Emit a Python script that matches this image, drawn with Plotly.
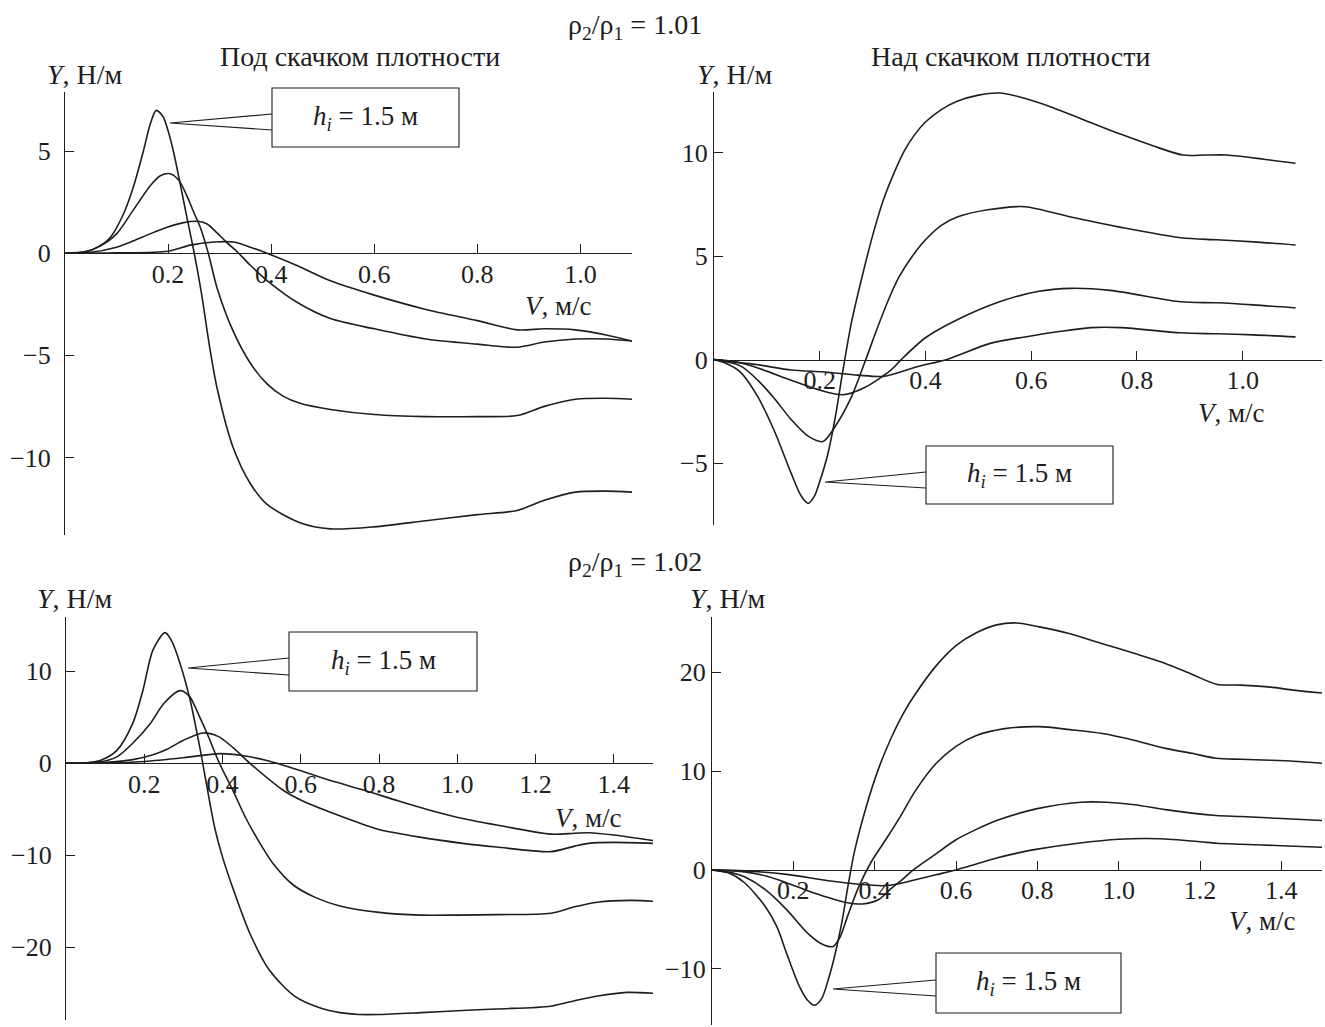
import plotly.graph_objects as go

# ---------------- DATA ----------------
# Panel 1: rho2/rho1 = 1.01, under the density jump
u1_A_v = [0, 0.03, 0.055, 0.087, 0.113, 0.132, 0.152, 0.165, 0.177, 0.19, 0.2, 0.212, 0.225, 0.237, 0.25, 0.265, 0.28, 0.295, 0.326, 0.36, 0.392, 0.456, 0.515, 0.6, 0.7, 0.8, 0.877, 0.93, 0.99, 1.05, 1.1]
u1_A_y = [0, 0.03, 0.2, 0.75, 1.9, 3.2, 5.0, 6.3, 7.0, 6.7, 6.0, 4.8, 3.2, 1.7, 0.1, -2.0, -4.5, -6.6, -9.5, -11.3, -12.3, -13.2, -13.5, -13.4, -13.1, -12.8, -12.6, -12.1, -11.7, -11.65, -11.7]
u1_B_v = [0, 0.04, 0.068, 0.1, 0.132, 0.165, 0.185, 0.204, 0.22, 0.235, 0.25, 0.262, 0.278, 0.295, 0.326, 0.36, 0.392, 0.423, 0.456, 0.515, 0.6, 0.7, 0.8, 0.877, 0.93, 0.99, 1.05, 1.1]
u1_B_y = [0, 0.08, 0.35, 0.95, 2.1, 3.3, 3.8, 3.9, 3.6, 2.9, 2.0, 1.3, 0, -1.7, -3.8, -5.4, -6.4, -7.0, -7.35, -7.65, -7.9, -8.0, -8.0, -7.95, -7.5, -7.15, -7.1, -7.15]
u1_C_v = [0, 0.05, 0.1, 0.132, 0.165, 0.198, 0.23, 0.256, 0.275, 0.295, 0.315, 0.335, 0.36, 0.4, 0.45, 0.515, 0.6, 0.7, 0.8, 0.877, 0.93, 0.99, 1.05, 1.1]
u1_C_y = [0, 0.05, 0.3, 0.6, 0.95, 1.27, 1.5, 1.57, 1.45, 1.0, 0.5, 0.05, -0.6, -1.5, -2.4, -3.2, -3.7, -4.2, -4.45, -4.6, -4.35, -4.2, -4.2, -4.3]
u1_D_v = [0, 0.1, 0.2, 0.243, 0.288, 0.327, 0.365, 0.392, 0.45, 0.515, 0.6, 0.7, 0.8, 0.877, 0.93, 0.99, 1.05, 1.1]
u1_D_y = [0, 0.02, 0.1, 0.4, 0.55, 0.55, 0.25, 0.0, -0.6, -1.35, -2.05, -2.75, -3.3, -3.75, -3.7, -3.75, -4.0, -4.3]

# Panel 2: rho2/rho1 = 1.01, above the density jump
o1_A_v = [0, 0.02, 0.05, 0.083, 0.115, 0.146, 0.165, 0.178, 0.19, 0.2, 0.215, 0.23, 0.244, 0.26, 0.28, 0.3, 0.32, 0.34, 0.36, 0.38, 0.4, 0.43, 0.46, 0.5, 0.54, 0.58, 0.63, 0.7, 0.77, 0.83, 0.887, 0.93, 0.97, 1.04, 1.1]
o1_A_y = [0, -0.15, -0.6, -1.8, -3.5, -5.5, -6.6, -6.95, -6.6, -5.9, -4.6, -2.7, -0.5, 1.8, 4.0, 6.0, 7.7, 9.0, 10.1, 10.9, 11.5, 12.1, 12.5, 12.8, 12.9, 12.7, 12.3, 11.6, 10.9, 10.35, 9.9, 9.9, 9.9, 9.7, 9.5]
o1_B_v = [0, 0.05, 0.083, 0.115, 0.146, 0.178, 0.206, 0.23, 0.26, 0.287, 0.31, 0.33, 0.35, 0.375, 0.4, 0.43, 0.46, 0.518, 0.588, 0.675, 0.77, 0.883, 0.95, 1.02, 1.1]
o1_B_y = [0, -0.3, -1.0, -1.9, -2.9, -3.7, -3.96, -3.2, -1.8, 0, 1.6, 2.9, 4.0, 5.0, 5.8, 6.5, 6.9, 7.25, 7.4, 6.9, 6.4, 5.9, 5.8, 5.7, 5.55]
o1_C_v = [0, 0.04, 0.083, 0.146, 0.197, 0.244, 0.285, 0.335, 0.354, 0.4, 0.46, 0.54, 0.612, 0.675, 0.75, 0.883, 0.95, 1.02, 1.1]
o1_C_y = [0, -0.1, -0.4, -1.0, -1.45, -1.7, -1.35, -0.5, 0, 1.06, 1.93, 2.8, 3.3, 3.45, 3.35, 2.8, 2.75, 2.65, 2.5]
o1_D_v = [0, 0.083, 0.146, 0.21, 0.272, 0.323, 0.386, 0.439, 0.524, 0.588, 0.65, 0.713, 0.77, 0.883, 0.95, 1.02, 1.1]
o1_D_y = [0, -0.25, -0.5, -0.6, -0.75, -0.8, -0.33, 0, 0.8, 1.1, 1.35, 1.55, 1.55, 1.3, 1.25, 1.2, 1.1]

# Panel 3: rho2/rho1 = 1.02, under the density jump
u2_A_v = [0, 0.05, 0.087, 0.13, 0.171, 0.197, 0.222, 0.253, 0.27, 0.291, 0.317, 0.342, 0.36, 0.38, 0.4, 0.43, 0.47, 0.52, 0.584, 0.65, 0.7, 0.75, 0.8, 0.907, 1.0, 1.1, 1.239, 1.3, 1.358, 1.433, 1.5]
u2_A_y = [0, 0.05, 0.3, 1.4, 4.4, 8.0, 12.3, 14.2, 13.3, 10.9, 6.9, 1.7, -2.5, -7.0, -10.2, -14.0, -18.5, -22.5, -25.3, -26.6, -27.1, -27.3, -27.3, -27.1, -26.9, -26.7, -26.4, -25.8, -25.3, -24.9, -25.0]
u2_B_v = [0, 0.087, 0.13, 0.171, 0.215, 0.25, 0.291, 0.315, 0.342, 0.365, 0.39, 0.427, 0.46, 0.5, 0.531, 0.58, 0.638, 0.7, 0.8, 0.907, 1.0, 1.1, 1.239, 1.3, 1.358, 1.443, 1.5]
u2_B_y = [0, 0.15, 0.7, 2.2, 4.3, 6.5, 7.9, 7.3, 5.0, 2.8, 0.2, -3.0, -6.0, -9.0, -11.0, -13.2, -14.6, -15.5, -16.2, -16.5, -16.5, -16.45, -16.3, -15.6, -15.1, -14.9, -15.0]
u2_C_v = [0, 0.1, 0.171, 0.22, 0.257, 0.3, 0.35, 0.39, 0.427, 0.47, 0.554, 0.605, 0.674, 0.75, 0.8, 0.9, 1.014, 1.1, 1.239, 1.3, 1.336, 1.4, 1.5]
u2_C_y = [0, 0.1, 0.4, 0.9, 1.5, 2.5, 3.3, 2.9, 1.7, 0, -2.9, -4.1, -5.3, -6.5, -7.2, -8.0, -8.7, -9.1, -9.6, -9.0, -8.7, -8.6, -8.7]
u2_D_v = [0, 0.1, 0.2, 0.3, 0.393, 0.45, 0.513, 0.57, 0.674, 0.76, 0.85, 0.93, 1.014, 1.1, 1.239, 1.3, 1.336, 1.4, 1.5]
u2_D_y = [0, 0.02, 0.2, 0.6, 1.05, 0.85, 0.3, -0.4, -1.85, -2.9, -4.1, -5.1, -6.0, -6.7, -7.7, -7.6, -7.55, -7.8, -8.4]

# Panel 4: rho2/rho1 = 1.02, above the density jump
o2_A_v = [0, 0.04, 0.08, 0.131, 0.16, 0.183, 0.215, 0.235, 0.252, 0.27, 0.286, 0.3, 0.318, 0.335, 0.35, 0.38, 0.41, 0.44, 0.47, 0.5, 0.55, 0.6, 0.65, 0.7, 0.75, 0.805, 0.88, 0.96, 1.04, 1.115, 1.18, 1.24, 1.3, 1.373, 1.43, 1.5]
o2_A_y = [0, -0.3, -1.3, -3.7, -5.8, -8.4, -11.8, -13.2, -13.7, -13.0, -11.1, -9.0, -5.6, -1.5, 1.8, 6.5, 10.3, 13.3, 15.8, 17.8, 20.6, 22.7, 24.0, 24.8, 25.0, 24.6, 23.9, 22.9, 21.9, 20.9, 19.8, 18.8, 18.7, 18.5, 18.2, 17.9]
o2_B_v = [0, 0.05, 0.08, 0.131, 0.183, 0.235, 0.27, 0.298, 0.315, 0.335, 0.36, 0.39, 0.431, 0.463, 0.5, 0.547, 0.6, 0.65, 0.72, 0.805, 0.88, 0.96, 1.04, 1.115, 1.18, 1.24, 1.3, 1.373, 1.43, 1.5]
o2_B_y = [0, -0.3, -0.7, -2.0, -4.0, -6.4, -7.5, -7.75, -6.8, -4.5, -1.8, 0.7, 3.3, 5.4, 8.0, 10.6, 12.5, 13.6, 14.3, 14.5, 14.2, 13.8, 13.1, 12.3, 11.8, 11.3, 11.2, 11.1, 11.0, 10.8]
o2_C_v = [0, 0.08, 0.131, 0.183, 0.235, 0.286, 0.33, 0.37, 0.41, 0.44, 0.47, 0.495, 0.55, 0.598, 0.65, 0.7, 0.8, 0.907, 0.97, 1.04, 1.115, 1.24, 1.3, 1.4, 1.5]
o2_C_y = [0, -0.2, -0.6, -1.3, -2.1, -2.8, -3.3, -3.45, -3.0, -1.9, -0.9, 0, 1.6, 3.0, 4.1, 5.0, 6.2, 6.85, 6.85, 6.6, 6.1, 5.5, 5.4, 5.2, 5.0]
o2_D_v = [0, 0.08, 0.183, 0.286, 0.36, 0.42, 0.46, 0.5, 0.55, 0.6, 0.65, 0.7, 0.75, 0.8, 0.9, 1.0, 1.1, 1.2, 1.24, 1.3, 1.4, 1.5]
o2_D_y = [0, -0.1, -0.45, -1.1, -1.45, -1.6, -1.4, -1.0, -0.5, 0, 0.6, 1.2, 1.7, 2.1, 2.7, 3.1, 3.15, 2.85, 2.7, 2.6, 2.45, 2.3]

x_ticks_101 = [0.2, 0.4, 0.6, 0.8, 1.0]
x_ticks_102 = [0.2, 0.4, 0.6, 0.8, 1.0, 1.2, 1.4]
y_ticks_p1 = [-10, -5, 0, 5]
y_ticks_p2 = [-5, 0, 5, 10]
y_ticks_p3 = [-20, -10, 0, 10]
y_ticks_p4 = [-10, 0, 10, 20]

title_101 = "ρ<sub>2</sub>/ρ<sub>1</sub> = 1.01"
title_102 = "ρ<sub>2</sub>/ρ<sub>1</sub> = 1.02"
label_under = "Под скачком плотности"
label_over = "Над скачком плотности"
y_label = "<i>Y</i>, Н/м"
x_label = "<i>V</i>, м/с"
callout_text = "<i>h<sub>i</sub></i> = 1.5 м"

# ---------------- LAYOUT ----------------
W, H = 1325, 1027
FONT = "Liberation Serif, Times New Roman, serif"
INK = "#1e1e1e"
TXT = 28
TICK = 26


def fx(p):
    return p / W


def fy(p):
    return 1 - p / H


# pixel boxes of each panel: (left, right, top, bottom), axis ranges
panels = [
    dict(curves=[(u1_A_v, u1_A_y), (u1_B_v, u1_B_y), (u1_C_v, u1_C_y), (u1_D_v, u1_D_y)],
         box=(65, 632, 92, 535), xr=[0, 1.1], yr=[-13.8, 7.9], xt=x_ticks_101, yt=y_ticks_p1, gap=8),
    dict(curves=[(o1_A_v, o1_A_y), (o1_B_v, o1_B_y), (o1_C_v, o1_C_y), (o1_D_v, o1_D_y)],
         box=(714, 1322, 92, 525), xr=[0, 1.15], yr=[-8.0, 12.95], xt=x_ticks_101, yt=y_ticks_p2, gap=0),
    dict(curves=[(u2_A_v, u2_A_y), (u2_B_v, u2_B_y), (u2_C_v, u2_C_y), (u2_D_v, u2_D_y)],
         box=(66, 653, 617, 1020), xr=[0, 1.5], yr=[-27.9, 15.9], xt=x_ticks_102, yt=y_ticks_p3, gap=8),
    dict(curves=[(o2_A_v, o2_A_y), (o2_B_v, o2_B_y), (o2_C_v, o2_C_y), (o2_D_v, o2_D_y)],
         box=(712, 1322, 617, 1025), xr=[0, 1.5], yr=[-15.7, 25.6], xt=x_ticks_102, yt=y_ticks_p4, gap=0),
]

fig = go.Figure()
layout = dict(
    width=W, height=H, margin=dict(l=0, r=0, t=0, b=0),
    paper_bgcolor="white", plot_bgcolor="white", showlegend=False,
    font=dict(family=FONT, size=TXT, color=INK),
)

for i, p in enumerate(panels, start=1):
    l, r, t, b = p["box"]
    xa = "x" if i == 1 else f"x{i}"
    for v, y in p["curves"]:
        fig.add_trace(go.Scatter(x=v, y=y, mode="lines", xaxis=xa, yaxis="y" if i == 1 else f"y{i}",
                                 line=dict(color=INK, width=1.6, shape="spline", smoothing=0.8),
                                 hoverinfo="skip"))
    y0, y1 = p["yr"]
    dom_y = [fy(b), fy(t)]
    zero_pos = dom_y[0] + (0 - y0) / (y1 - y0) * (dom_y[1] - dom_y[0])
    layout["xaxis" if i == 1 else f"xaxis{i}"] = dict(
        domain=[fx(l), fx(r)], range=p["xr"], anchor="free", position=zero_pos,
        tickvals=p["xt"], ticktext=[f"{t_:.1f}" for t_ in p["xt"]],
        ticks="inside", ticklen=9, tickwidth=1.3, tickcolor=INK,
        showline=True, linecolor=INK, linewidth=1.3, ticklabelstandoff=-3,
        showgrid=False, zeroline=False, tickfont=dict(size=TICK),
    )
    layout["yaxis" if i == 1 else f"yaxis{i}"] = dict(
        domain=dom_y, range=p["yr"], anchor=xa,
        tickvals=p["yt"], ticks="inside", ticklen=9, tickwidth=1.3, tickcolor=INK,
        showline=True, linecolor=INK, linewidth=1.3, ticklabelstandoff=p["gap"],
        showgrid=False, zeroline=False, tickfont=dict(size=TICK),
    )

fig.update_layout(**layout)


# ---------------- TEXT ----------------
def text(s, x, y, size=TXT, xanchor="center"):
    fig.add_annotation(text=s, x=fx(x), y=fy(y), xref="paper", yref="paper",
                       showarrow=False, xanchor=xanchor, yanchor="middle",
                       font=dict(size=size, family=FONT, color=INK))


text(title_101, 635, 26)
text(title_102, 635, 563)
text(label_under, 360, 57)
text(label_over, 1010, 57)
for (xx, yy) in [(85, 74), (735, 74), (75, 598), (728, 598)]:
    text(y_label, xx, yy)
for (xx, yy) in [(558, 306), (1231, 413), (588, 818), (1262, 921)]:
    text(x_label, xx, yy, size=27)

# ---------------- CALLOUTS ----------------
callouts = [
    # box (l, t, r, b), tip point, attach y1, y2
    ((272, 88, 459, 147), (170, 123), 114, 130),
    ((926, 446, 1113, 504), (825, 482), 472, 488),
    ((289, 632, 477, 691), (188, 668), 658, 675),
    ((936, 953, 1121, 1013), (833, 989), 980, 996),
]
for (bl, bt, br, bb), (tx, ty), a1, a2 in callouts:
    fig.add_shape(type="rect", xref="paper", yref="paper",
                  x0=fx(bl), x1=fx(br), y0=fy(bb), y1=fy(bt),
                  line=dict(color=INK, width=1.1), fillcolor="white")
    fig.add_shape(type="path", xref="paper", yref="paper",
                  path=f"M {fx(bl)},{fy(a1)} L {fx(tx)},{fy(ty)} L {fx(bl)},{fy(a2)}",
                  line=dict(color=INK, width=1.1))
    text(callout_text, (bl + br) / 2, (bt + bb) / 2, size=27)

fig.write_html("out.html", config={"displayModeBar": False},
               post_script="document.body.style.margin='0';document.body.style.padding='0';")
